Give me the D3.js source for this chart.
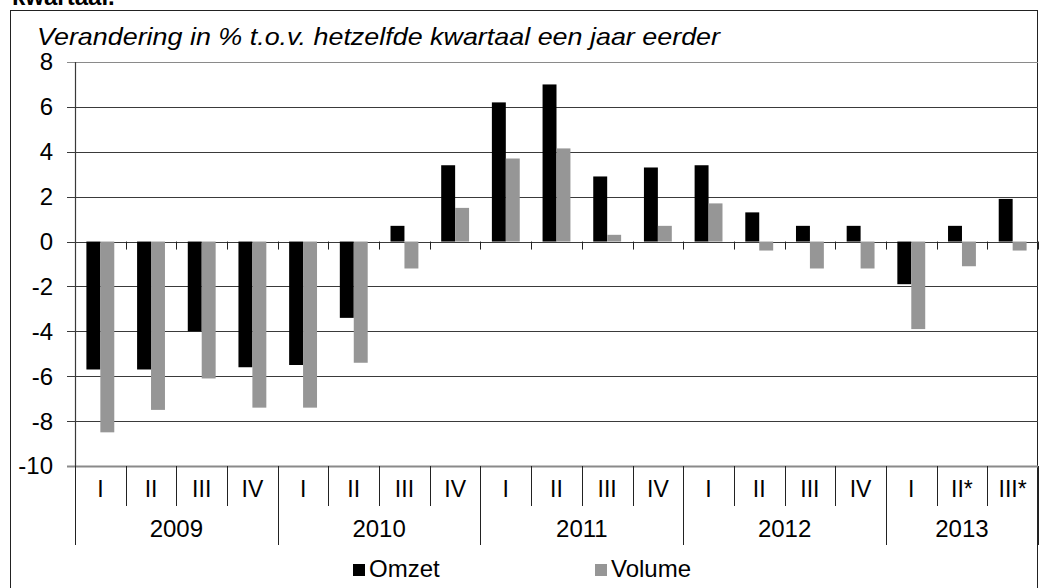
<!DOCTYPE html>
<html>
<head>
<meta charset="utf-8">
<script src="https://cdn.jsdelivr.net/npm/d3@7"></script>
<style>
  body { margin: 0; background: #fff; }
  svg { display: block; font-family: "Liberation Sans", Arial, sans-serif; }
</style>
</head>
<body>
<div id="chart"></div>
<script>
// data
var quarters = ["I","II","III","IV","I","II","III","IV","I","II","III","IV","I","II","III","IV","I","II*","III*"]
var years = ["2009","2010","2011","2012","2013"]
var yearCounts = [4,4,4,4,3]
var omzet  = [-5.7,-5.7,-4.0,-5.6,-5.5,-3.4,0.7,3.4,6.2,7.0,2.9,3.3,3.4,1.3,0.7,0.7,-1.9,0.7,1.9]
var volume = [-8.5,-7.5,-6.1,-7.4,-7.4,-5.4,-1.2,1.5,3.7,4.15,0.3,0.7,1.7,-0.4,-1.2,-1.2,-3.9,-1.1,-0.4]
var yTicks = [8,6,4,2,0,-2,-4,-6,-8,-10]
var seriesNames = ["Omzet","Volume"]
var seriesColors = ["#000000","#969696"]

var w = 1043, h = 588
// plot area (note: "top" is taken by window.top, so use own names)
var plotLeft = 75, plotRight = 1038, plotTop = 62, plotBottom = 466

var svg = d3.select("#chart").append("svg")
  .attr("width", w)
  .attr("height", h)

// frame (bottom runs off the picture)
svg.append("rect")
  .attr("x", 10.5).attr("y", 10.5)
  .attr("width", 1027).attr("height", 600)
  .attr("fill", "none").attr("stroke", "#222").attr("stroke-width", 1)

// cut-off heading above the frame
svg.append("text")
  .attr("x", 12).attr("y", 5)
  .attr("font-weight", "bold").attr("font-size", 24)
  .text("kwartaal.")

svg.append("text")
  .attr("x", 37).attr("y", 45)
  .attr("font-style", "italic").attr("font-size", 24)
  .attr("textLength", 683).attr("lengthAdjust", "spacingAndGlyphs")
  .text("Verandering in % t.o.v. hetzelfde kwartaal een jaar eerder")

var y = d3.scaleLinear().domain([-10, 8]).range([plotBottom, plotTop])

var x = d3.scaleBand()
  .domain(d3.range(quarters.length))
  .range([plotLeft, plotRight])
  .paddingInner(0.45)
  .paddingOuter(0.225)

var xs = d3.scaleBand().domain([0, 1]).range([0, x.bandwidth()])

var step = x.step()

// gridlines
svg.append("g").selectAll("line")
  .data(yTicks)
  .join("line")
  .attr("x1", plotLeft - 8).attr("x2", plotRight)
  .attr("y1", function(d) { return Math.round(y(d)) + 0.5 })
  .attr("y2", function(d) { return Math.round(y(d)) + 0.5 })
  .attr("stroke", function(d) { return (d == 8 || d == -10) ? "#8a8a8a" : "#3a3a3a" })
  .attr("stroke-width", function(d) { return d == -10 ? 2 : 1.2 })

// y tick labels
svg.append("g").selectAll("text")
  .data(yTicks)
  .join("text")
  .attr("x", 53)
  .attr("y", function(d) { return y(d) })
  .attr("dy", "0.35em")
  .attr("text-anchor", "end")
  .attr("font-size", 24)
  .text(function(d) { return d })

// small ticks under the zero line
svg.append("g").selectAll("line")
  .data(d3.range(quarters.length + 1))
  .join("line")
  .attr("x1", function(i) { return Math.round(plotLeft + i * step) + 0.5 })
  .attr("x2", function(i) { return Math.round(plotLeft + i * step) + 0.5 })
  .attr("y1", y(0)).attr("y2", y(0) + 8)
  .attr("stroke", "#222")

// bars
var allSeries = [omzet, volume]
allSeries.forEach(function(vals, s) {
  svg.append("g").selectAll("rect")
    .data(vals)
    .join("rect")
    .attr("x", function(d, i) { return x(i) + xs(s) })
    .attr("width", xs.bandwidth())
    .attr("y", function(d) { return y(Math.max(0, d)) })
    .attr("height", function(d) { return Math.abs(y(d) - y(0)) })
    .attr("fill", seriesColors[s])
})

// y axis line
svg.append("line")
  .attr("x1", plotLeft + 0.5).attr("x2", plotLeft + 0.5)
  .attr("y1", plotTop).attr("y2", plotBottom)
  .attr("stroke", "#3a3a3a").attr("stroke-width", 1.2)

// category axis: quarter dividers and labels
svg.append("g").selectAll("line")
  .data(d3.range(quarters.length + 1))
  .join("line")
  .attr("x1", function(i) { return Math.round(plotLeft + i * step) + 0.5 })
  .attr("x2", function(i) { return Math.round(plotLeft + i * step) + 0.5 })
  .attr("y1", plotBottom).attr("y2", plotBottom + 40)
  .attr("stroke", "#222")

svg.append("g").selectAll("text")
  .data(quarters)
  .join("text")
  .attr("x", function(d, i) { return x(i) + x.bandwidth() / 2 })
  .attr("y", 497)
  .attr("text-anchor", "middle")
  .attr("font-size", 23)
  .text(function(d) { return d })

// year dividers and labels
var yearStart = [0]
yearCounts.forEach(function(c, i) { yearStart.push(yearStart[i] + c) })

svg.append("g").selectAll("line")
  .data(yearStart)
  .join("line")
  .attr("x1", function(i) { return Math.round(plotLeft + i * step) + 0.5 })
  .attr("x2", function(i) { return Math.round(plotLeft + i * step) + 0.5 })
  .attr("y1", plotBottom).attr("y2", plotBottom + 79)
  .attr("stroke", "#222")

svg.append("g").selectAll("text")
  .data(years)
  .join("text")
  .attr("x", function(d, i) { return plotLeft + (yearStart[i] + yearCounts[i] / 2) * step })
  .attr("y", 537)
  .attr("text-anchor", "middle")
  .attr("font-size", 24)
  .text(function(d) { return d })

// legend
var legendX = [353, 595]
seriesNames.forEach(function(name, s) {
  var g = svg.append("g").attr("transform", "translate(" + legendX[s] + ",564)")
  g.append("rect").attr("width", 12).attr("height", 12).attr("fill", seriesColors[s])
  g.append("text").attr("x", 16).attr("y", 13).attr("font-size", 24).text(name)
})
</script>
</body>
</html>
